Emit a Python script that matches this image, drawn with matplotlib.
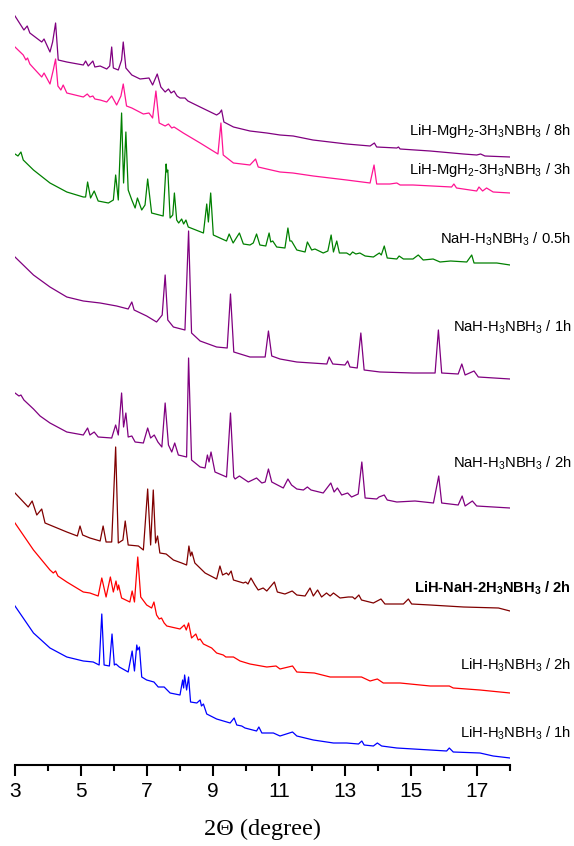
import matplotlib
matplotlib.use('Agg')
import matplotlib.pyplot as plt

plt.rcParams['font.family'] = 'Liberation Sans'
plt.rcParams['mathtext.fontset'] = 'custom'
plt.rcParams['mathtext.rm'] = 'Liberation Sans'
plt.rcParams['mathtext.it'] = 'Liberation Sans:italic'
plt.rcParams['mathtext.bf'] = 'Liberation Sans:bold'

# XRD patterns (2theta in degree, stacked intensity in a.u.)
mg8_x = [3.0, 3.27, 3.37, 3.45, 3.81, 3.88, 4.06, 4.14, 4.23, 4.31, 4.57, 5.07, 5.14, 5.22, 5.36, 5.42,
         5.58, 5.78, 5.87, 5.93, 5.98, 6.13, 6.23, 6.28, 6.36, 6.54, 6.79, 7.06, 7.17, 7.31, 7.42, 7.55,
         7.65, 7.73, 7.82, 7.91, 8.0, 8.15, 8.24, 8.61, 9.11, 9.2, 9.26, 9.33, 9.62, 10.12, 10.63, 11.03,
         11.43, 12.03, 13.05, 13.76, 13.89, 13.96, 14.57, 14.62, 14.67, 15.58, 16.59, 16.99, 17.11, 17.24, 18.0]
mg8_y = [749, 735, 739, 732, 723, 726, 713, 723, 742, 705, 703, 700, 704, 699, 704, 698,
         699, 696, 699, 718, 697, 695, 705, 723, 697, 690, 686, 687, 680, 691, 678, 673,
         676, 672, 674, 669, 667, 667, 664, 658, 650, 652, 655, 643, 638, 634, 632, 630,
         629, 625, 621, 619, 622, 618, 617, 618, 616, 614, 611, 610, 611, 609, 608]

mg3_x = [3.0, 3.25, 3.33, 3.38, 3.45, 3.56, 3.81, 3.88, 4.06, 4.16, 4.23, 4.3, 4.39, 4.46, 4.57, 5.07,
         5.19, 5.27, 5.36, 5.42, 5.58, 5.78, 5.93, 6.08, 6.21, 6.28, 6.38, 6.54, 6.89, 7.06, 7.17, 7.27,
         7.37, 7.55, 7.65, 7.75, 7.82, 8.1, 8.61, 9.15, 9.24, 9.31, 9.62, 10.12, 10.29, 10.37, 10.63, 11.03,
         11.42, 12.04, 13.05, 13.76, 13.88, 13.96, 14.36, 14.57, 14.67, 15.06, 16.23, 16.3, 16.38, 16.99,
         17.06, 17.17, 17.29, 17.49, 18.0]
mg3_y = [718, 710, 705, 707, 701, 697, 688, 692, 681, 695, 706, 679, 675, 680, 672, 668,
         671, 668, 669, 666, 665, 663, 669, 660, 669, 681, 659, 657, 651, 652, 647, 674,
         642, 639, 641, 637, 638, 632, 622, 611, 642, 610, 602, 600, 606, 598, 596, 593,
         592, 589, 585, 582, 600, 581, 581, 582, 580, 580, 578, 581, 577, 574,
         578, 574, 577, 573, 572]

na05_x = [3.0, 3.09, 3.18, 3.25, 3.56, 4.06, 4.57, 5.07, 5.14, 5.2, 5.29, 5.4, 5.52, 5.83, 5.98, 6.05,
          6.13, 6.23, 6.29, 6.36, 6.43, 6.54, 6.64, 6.71, 6.84, 6.94, 7.02, 7.14, 7.49, 7.58, 7.6, 7.63,
          7.7, 7.78, 7.83, 7.9, 7.96, 8.05, 8.11, 8.18, 8.25, 8.71, 8.81, 8.86, 8.93, 9.01, 9.41, 9.49,
          9.61, 9.8, 9.92, 10.12, 10.22, 10.32, 10.42, 10.6, 10.7, 10.75, 10.81, 10.93, 11.18, 11.27, 11.33,
          11.38, 11.54, 11.79, 11.86, 11.99, 12.09, 12.34, 12.48, 12.58, 12.65, 12.75, 12.83, 13.05, 13.15,
          13.23, 13.33, 13.45, 13.61, 13.86, 14.04, 14.1, 14.19, 14.28, 14.57, 14.64, 14.77, 15.06, 15.22,
          15.37, 15.67, 15.88, 16.2, 16.69, 16.84, 16.91, 17.6, 18.0]
na05_y = [611, 609, 613, 605, 595, 582, 573, 568, 568, 583, 567, 574, 564, 562, 565, 590,
          565, 652, 582, 633, 575, 565, 557, 567, 555, 560, 586, 552, 549, 601, 593, 595,
          547, 550, 572, 545, 542, 546, 541, 545, 538, 532, 561, 543, 572, 530, 524, 531,
          522, 532, 521, 520, 522, 531, 520, 519, 532, 523, 524, 518, 517, 537, 524,
          524, 515, 513, 523, 515, 516, 512, 514, 530, 513, 524, 512, 512, 510,
          513, 511, 512, 509, 508, 512, 510, 519, 507, 506, 509, 506, 506, 510,
          505, 506, 503, 504, 503, 510, 502, 502, 500]

na1_x = [3.0, 3.56, 4.06, 4.57, 5.07, 5.58, 6.08, 6.43, 6.54, 6.61, 6.99, 7.29, 7.46, 7.55, 7.63, 7.8,
         8.15, 8.26, 8.35, 8.61, 9.11, 9.43, 9.53, 9.63, 10.12, 10.58, 10.68, 10.78, 11.03, 11.54, 12.45,
         12.52, 12.63, 13.0, 13.08, 13.15, 13.37, 13.48, 13.58, 14.06, 15.07, 15.73, 15.83, 15.93, 16.43,
         16.54, 16.64, 16.91, 17.04, 18.0]
na1_y = [508, 490, 478, 468, 464, 462, 459, 456, 463, 455, 449, 443, 450, 490, 445, 438,
         435, 534, 432, 424, 418, 417, 471, 413, 408, 408, 434, 409, 406, 403, 401,
         408, 401, 400, 404, 398, 397, 432, 395, 393, 392, 392, 435, 392, 391,
         401, 390, 394, 388, 386]

na2_x = [3.0, 3.12, 3.18, 3.27, 3.56, 3.76, 4.06, 4.57, 5.07, 5.2, 5.27, 5.4, 5.52, 5.93, 6.05, 6.13,
         6.23, 6.29, 6.36, 6.43, 6.54, 6.64, 6.89, 7.02, 7.11, 7.22, 7.33, 7.45, 7.55, 7.65, 7.75, 7.84,
         7.95, 8.2, 8.26, 8.35, 8.61, 8.76, 8.83, 8.88, 8.94, 9.06, 9.41, 9.53, 9.63, 9.67, 9.8, 10.07,
         10.32, 10.48, 10.58, 10.68, 10.78, 11.13, 11.27, 11.38, 11.54, 11.74, 11.86, 11.97, 12.34, 12.57,
         12.67, 12.77, 12.9, 13.08, 13.2, 13.4, 13.51, 13.61, 13.96, 14.03, 14.19, 14.28, 14.57, 15.12,
         15.68, 15.84, 15.93, 16.43, 16.55, 16.64, 16.86, 16.99, 18.0]
na2_y = [372, 369, 370, 365, 356, 349, 342, 333, 330, 337, 330, 333, 328, 327, 340, 330,
         372, 338, 352, 328, 329, 323, 322, 337, 327, 330, 323, 318, 362, 320, 313, 322,
         310, 308, 407, 305, 298, 297, 310, 303, 313, 293, 288, 352, 288, 286, 289, 283,
         287, 282, 283, 296, 283, 277, 286, 280, 276, 275, 278, 275, 272, 282,
         273, 277, 270, 272, 268, 271, 303, 267, 266, 268, 270, 265, 263, 264,
         262, 289, 262, 260, 269, 259, 264, 259, 257]

lina_x = [3.0, 3.4, 3.52, 3.66, 3.81, 3.91, 4.57, 4.89, 4.97, 5.05, 5.27, 5.58, 5.67, 5.76, 5.93, 6.05,
          6.13, 6.27, 6.34, 6.43, 6.74, 6.89, 7.02, 7.11, 7.19, 7.26, 7.32, 7.39, 7.58, 7.8, 8.05, 8.2,
          8.27, 8.32, 8.36, 8.45, 8.76, 9.11, 9.21, 9.29, 9.41, 9.47, 9.55, 9.62, 9.92, 9.99, 10.06, 10.15,
          10.27, 10.37, 10.52, 10.63, 10.86, 10.95, 11.18, 11.4, 11.54, 11.79, 11.94, 12.04, 12.17, 12.29,
          12.44, 12.55, 12.65, 12.85, 13.1, 13.23, 13.3, 13.42, 13.5, 13.86, 14.09, 14.21, 14.77, 14.92,
          15.02, 15.58, 16.59, 17.65, 18.0]
lina_y = [272, 258, 264, 250, 256, 242, 233, 229, 239, 230, 227, 224, 239, 223, 223, 318,
          222, 225, 244, 220, 219, 215, 276, 220, 275, 222, 229, 212, 211, 205, 202, 200,
          219, 209, 213, 202, 192, 186, 199, 190, 192, 190, 194, 185, 182, 183, 181, 187,
          180, 175, 177, 174, 183, 173, 171, 174, 170, 169, 177, 169, 175, 168,
          172, 169, 172, 167, 168, 168, 166, 170, 165, 162, 166, 161, 161, 166,
          161, 160, 158, 157, 154]

li2_x = [3.0, 3.56, 4.06, 4.16, 4.23, 4.3, 4.57, 5.07, 5.27, 5.52, 5.63, 5.76, 5.89, 5.98, 6.06, 6.11,
         6.14, 6.23, 6.48, 6.55, 6.62, 6.72, 6.81, 6.99, 7.14, 7.21, 7.29, 7.37, 7.44, 7.52, 7.6, 8.0,
         8.13, 8.19, 8.26, 8.35, 8.48, 8.55, 8.61, 8.71, 8.96, 9.11, 9.31, 9.39, 9.62, 9.82, 10.12, 10.63,
         10.91, 11.03, 11.41, 11.54, 12.07, 12.55, 13.5, 13.76, 13.98, 14.16, 14.67, 15.58, 16.16, 16.28,
         17.09, 18.0]
li2_y = [242, 215, 195, 192, 194, 189, 183, 173, 172, 169, 187, 168, 188, 173, 184, 175,
         180, 167, 163, 174, 163, 208, 168, 160, 157, 163, 150, 146, 147, 142, 139, 136,
         140, 135, 142, 127, 131, 125, 126, 121, 117, 112, 110, 108, 108, 104, 101, 98,
         99, 96, 99, 93, 92, 88, 88, 84, 86, 82, 82, 79, 79, 77,
         75, 72]

li1_x = [3.0, 3.56, 4.06, 4.57, 5.07, 5.37, 5.55, 5.63, 5.7, 5.86, 5.94, 6.01, 6.06, 6.16, 6.43, 6.55,
         6.62, 6.69, 6.72, 6.77, 6.84, 6.99, 7.21, 7.34, 7.52, 7.7, 8.0, 8.08, 8.11, 8.14, 8.2, 8.26,
         8.32, 8.51, 8.61, 8.65, 8.71, 8.81, 9.11, 9.52, 9.64, 9.72, 9.87, 9.97, 10.32, 10.39, 10.48,
         10.83, 11.03, 11.41, 11.54, 12.04, 12.65, 13.05, 13.41, 13.51, 13.58, 13.86, 13.98, 14.11, 14.57,
         15.58, 16.08, 16.16, 16.28, 17.09, 17.49, 18.0]
li1_y = [159, 132, 117, 108, 104, 103, 100, 151, 100, 99, 131, 100, 101, 98, 93, 114,
         94, 120, 115, 118, 88, 85, 83, 78, 78, 72, 70, 85, 77, 90, 75, 88,
         63, 62, 65, 59, 61, 51, 46, 42, 47, 40, 39, 37, 34, 38, 32,
         32, 29, 33, 29, 25, 22, 22, 21, 24, 20, 19, 22, 19, 17,
         15, 14, 17, 13, 12, 9, 7]

# label text, colour, label baseline height
labels = ['LiH-MgH$_2$-3H$_3$NBH$_3$ / 8h', 'LiH-MgH$_2$-3H$_3$NBH$_3$ / 3h', 'NaH-H$_3$NBH$_3$ / 0.5h',
          'NaH-H$_3$NBH$_3$ / 1h', 'NaH-H$_3$NBH$_3$ / 2h', r'LiH-NaH-2H$_\mathbf{3}$NBH$_\mathbf{3}$ / 2h',
          'LiH-H$_3$NBH$_3$ / 2h', 'LiH-H$_3$NBH$_3$ / 1h']
label_y = [630, 591, 521, 433, 297, 172, 95, 27]
colors = ['#800080', '#ff1493', '#008000', '#800080', '#800080', '#800000', '#ff0000', '#0000ff']
xs = [mg8_x, mg3_x, na05_x, na1_x, na2_x, lina_x, li2_x, li1_x]
ys = [mg8_y, mg3_y, na05_y, na1_y, na2_y, lina_y, li2_y, li1_y]
major_ticks = [3, 5, 7, 9, 11, 13, 15, 17]
minor_ticks = [4, 6, 8, 10, 12, 14, 16, 18]

fig = plt.figure(figsize=(5.74, 8.46), dpi=100)
ax = fig.add_axes([15 / 574, 81 / 846, 495 / 574, 765 / 846])

for x, y, c, lab, ly in zip(xs, ys, colors, labels, label_y):
    ax.plot(x, y, color=c, lw=0.9)
    weight = 'bold' if 'NaH-2H' in lab else 'normal'
    ax.text(19.85, ly, lab, ha='right', va='baseline', fontsize=10.6, fontweight=weight, clip_on=False)

ax.set_xlim(3, 18)
ax.set_ylim(0, 765)
for s in ['left', 'right', 'top']:
    ax.spines[s].set_visible(False)
ax.spines['bottom'].set_linewidth(1.5)
ax.set_yticks([])
ax.set_xticks(major_ticks)
ax.set_xticks(minor_ticks, minor=True)
ax.tick_params(axis='x', which='major', length=8, width=1.5, labelsize=15, pad=4)
ax.tick_params(axis='x', which='minor', length=4.5, width=1.5)
ax.set_xlabel('2\u0398 (degree)', family='Liberation Serif', fontsize=17.5, labelpad=13)

fig.savefig('out.png', dpi=100)
